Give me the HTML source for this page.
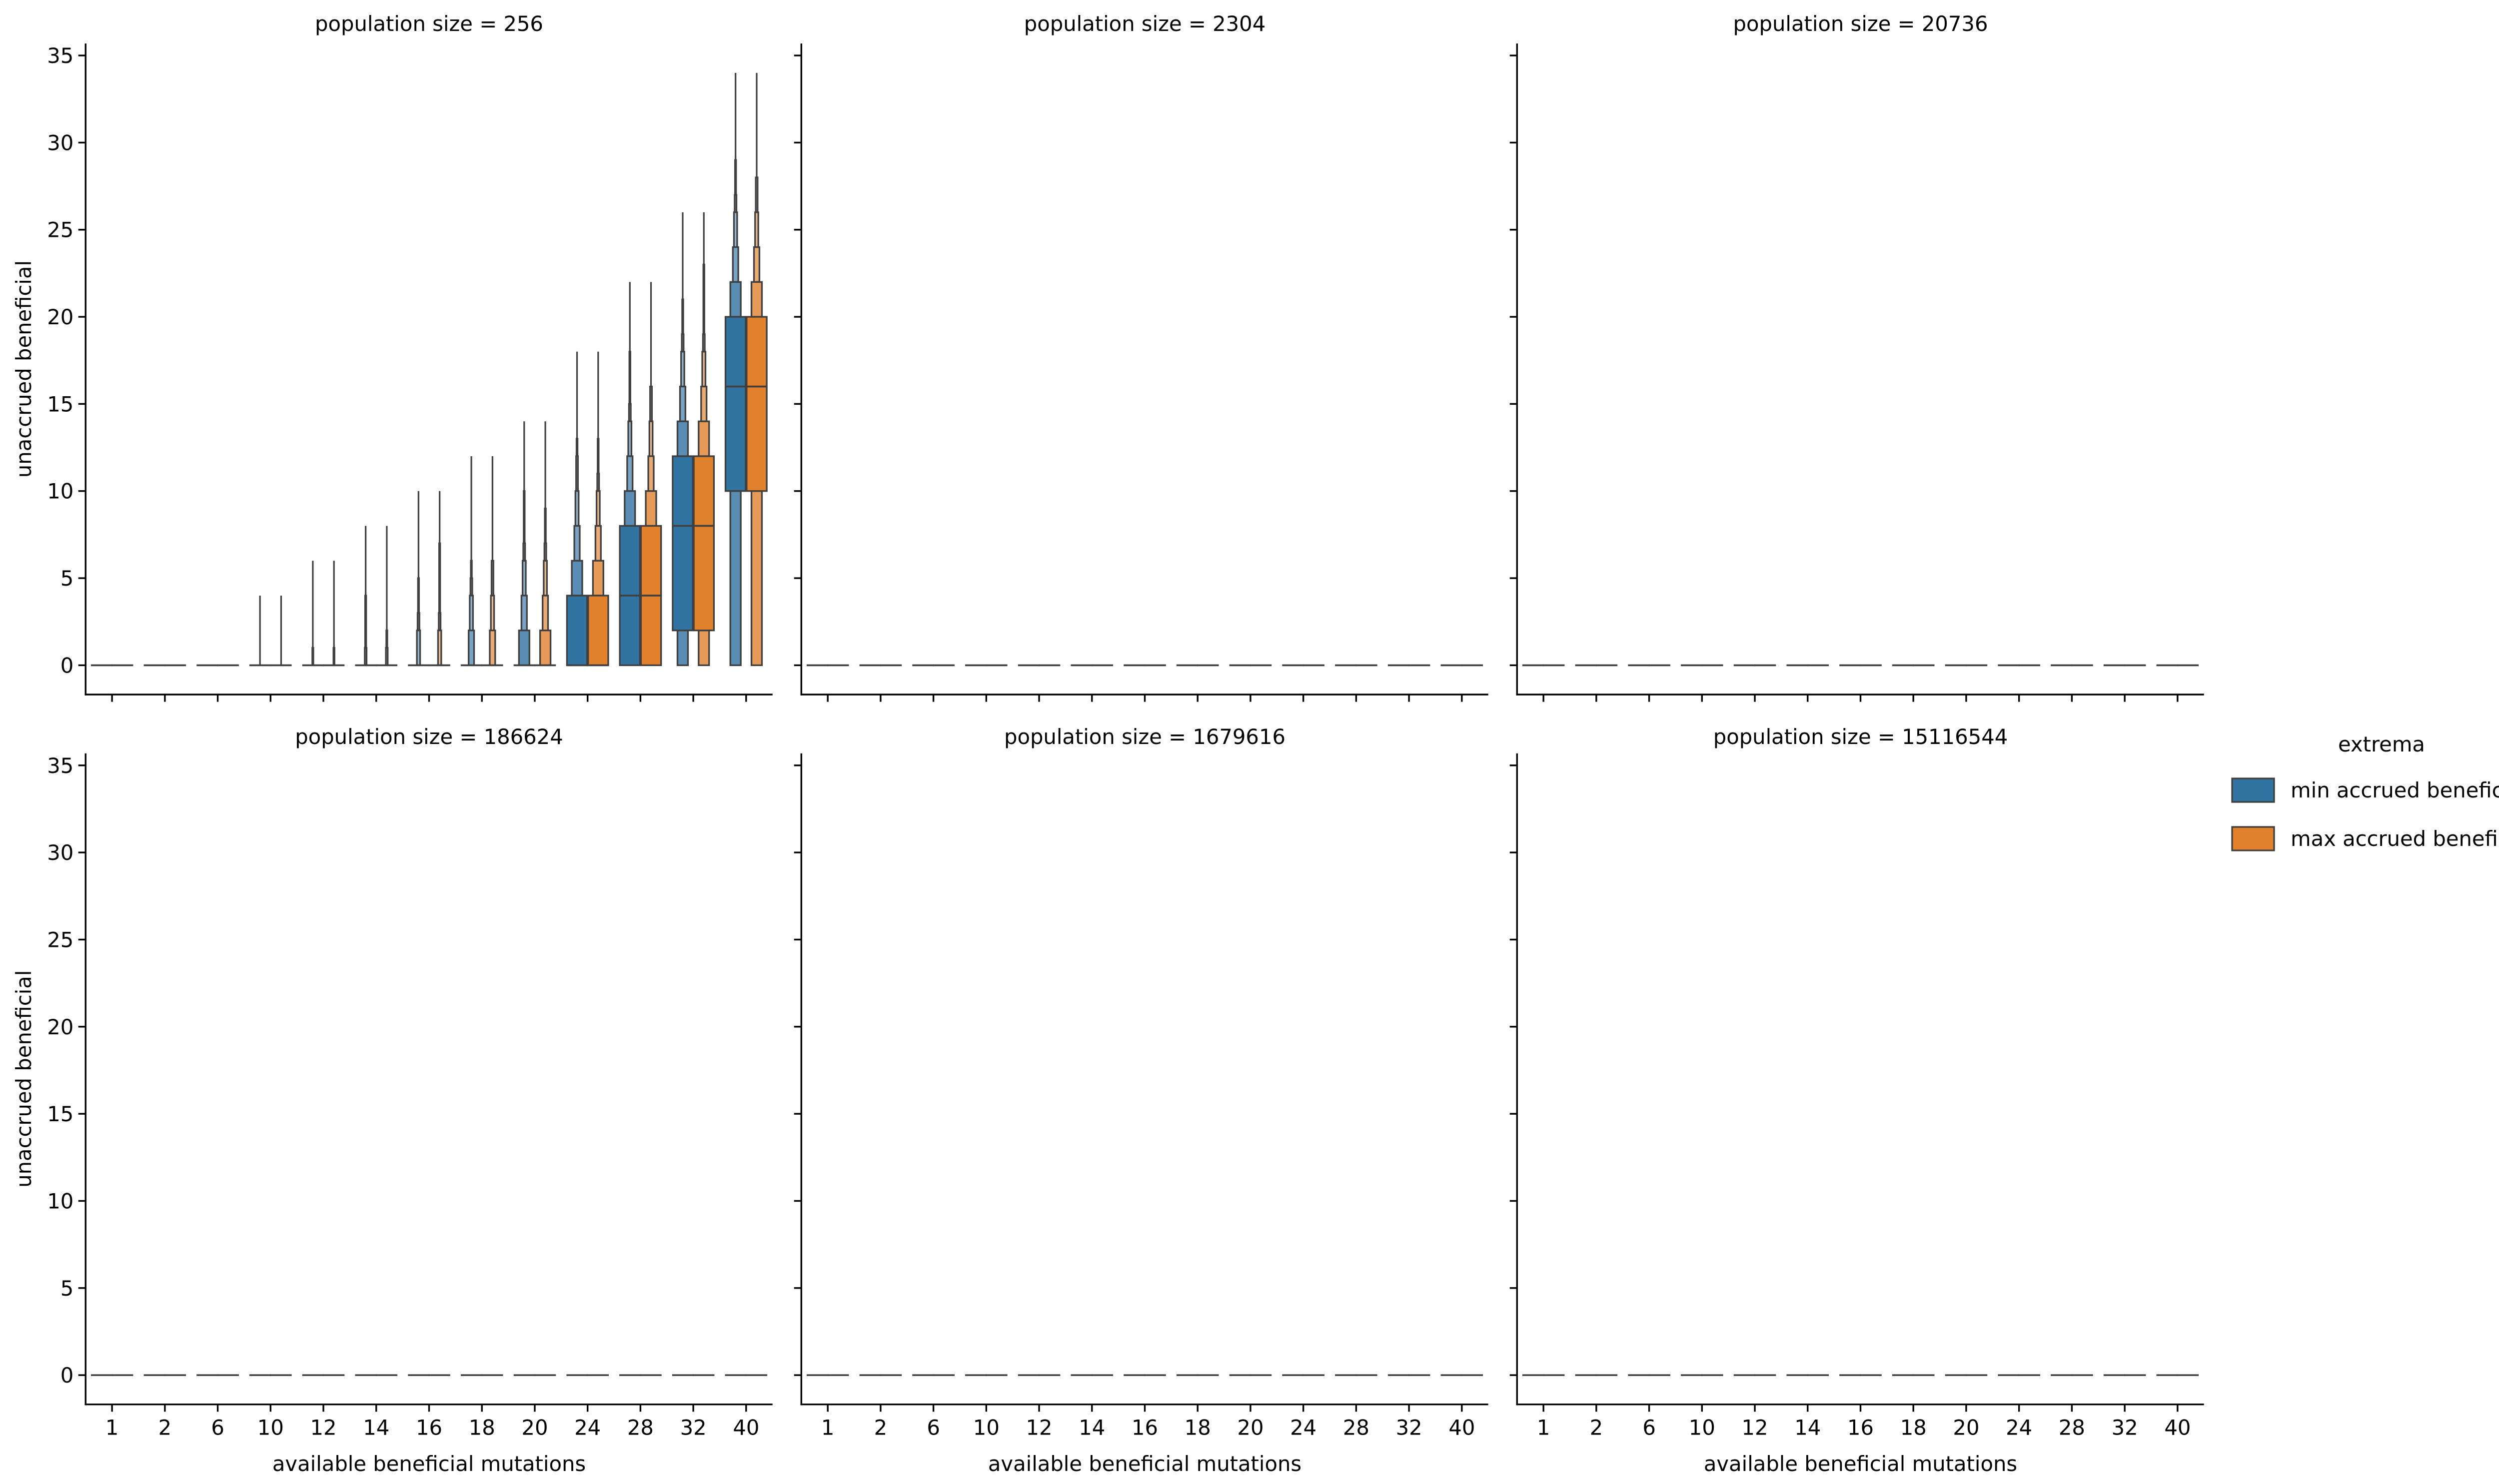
<!DOCTYPE html>
<html><head><meta charset="utf-8"><style>
html,body{margin:0;padding:0;background:#fff;}
svg{display:block;font-family:"DejaVu Sans","Liberation Sans",sans-serif;}
</style></head><body>
<svg id="chart" width="5105" height="2970" viewBox="0 0 5105 2970" xmlns="http://www.w3.org/2000/svg"></svg>
<script>
const categories = [1,2,6,10,12,14,16,18,20,24,28,32,40];
const populations = [256,2304,20736,186624,1679616,15116544];
const yTicks = [0,5,10,15,20,25,30,35];
const hueNames = ["min accrued beneficial","max accrued beneficial"];
// panel 1 (population 256) boxen levels: [low, high, level]
const minBoxes256 = [[],[],[],[],[[0,1,5]],[[0,1,4],[1,4,5]],[[0,2,3],[2,3,4],[3,5,5]],
 [[0,2,2],[2,4,3],[4,5,4],[5,6,5]],[[0,2,1],[2,4,2],[4,6,3],[6,7,4],[7,10,5]],
 [[0,4,0],[4,6,1],[6,8,2],[8,10,3],[10,12,4],[12,13,5]],
 [[0,8,0],[8,10,1],[10,12,2],[12,14,3],[14,15,4],[15,18,5]],
 [[2,12,0],[0,2,1],[12,14,1],[14,16,2],[16,18,3],[18,19,4],[19,21,5]],
 [[10,20,0],[0,10,1],[20,22,1],[22,24,2],[24,26,3],[26,27,4],[27,29,5]]];
const maxBoxes256 = [[],[],[],[],[[0,1,5]],[[0,1,4],[1,2,5]],[[0,2,3],[2,3,4],[3,7,5]],
 [[0,2,2],[2,4,3],[4,6,4]],[[0,2,1],[2,4,2],[4,6,3],[6,7,4],[7,9,5]],
 [[0,4,0],[4,6,1],[6,8,2],[8,10,3],[10,11,4],[11,13,5]],
 [[0,8,0],[8,10,1],[10,12,2],[12,14,3],[14,16,4]],
 [[2,12,0],[0,2,1],[12,14,1],[14,16,2],[16,18,3],[18,19,4],[19,23,5]],
 [[10,20,0],[0,10,1],[20,22,1],[22,24,2],[24,26,3],[26,28,4]]];
const minMedian256 = [0,0,0,0,0,0,0,0,0,0,4,8,16];
const maxMedian256 = [0,0,0,0,0,0,0,0,0,0,4,8,16];
const minTop256 = [0,0,0,4,6,8,10,12,14,18,22,26,34];
const maxTop256 = [0,0,0,4,6,8,10,12,14,18,22,26,34];
// other populations: all values zero
const zeroMedians = [0,0,0,0,0,0,0,0,0,0,0,0,0];

const NS="http://www.w3.org/2000/svg";
const svg=document.getElementById('chart');
const colLeft=[171.3,1603.3,3035.3], pW=1374.4;
const rowTop=[87,1507.7], pH=1303;
const yMin=-1.68, yMax=35.69;
const levelFrac=[1,0.52,0.27,0.16,0.09,0.05];
const fills=[["#3274a1","#5a8db3","#78a3c4","#96b9d4","#aac8de","#bcd4e6"],
             ["#e1812c","#e59a57","#e9ab74","#eebd92","#f1cba8","#f4d8bd"]];
const edge="#3f3f3f";
function mk(tag,attrs,parent){const e=document.createElementNS(NS,tag);for(const k in attrs)e.setAttribute(k,attrs[k]);(parent||svg).appendChild(e);return e;}

populations.forEach((pop,pi)=>{
  const r=Math.floor(pi/3), c=pi%3;
  const L=colLeft[c], T=rowTop[r], B=T+pH;
  const xs=i=>L+(i+0.5)*pW/categories.length;
  const ys=v=>B-(v-yMin)/(yMax-yMin)*pH;
  const step=pW/categories.length, hw=0.4*step;
  const g=mk('g',{});
  
  
  const t=mk('text',{x:L+pW/2,y:r===0?62:1489,'text-anchor':'middle','font-size':41.7,fill:'#000'},g);
  t.textContent='population size = '+pop;
  
  
  // marks
  const boxesH = pi===0?[minBoxes256,maxBoxes256]:null;
  const medH = pi===0?[minMedian256,maxMedian256]:[zeroMedians,zeroMedians];
  const topH = pi===0?[minTop256,maxTop256]:[zeroMedians,zeroMedians];
  categories.forEach((cat,ci)=>{
    for(let h=0;h<2;h++){
      const cx=xs(ci)+(h===0?-hw/2:hw/2);
      const boxes=boxesH?boxesH[h][ci]:[];
      let top=0;
      boxes.forEach(b=>{top=Math.max(top,b[1]);});
      // whisker line
      if(topH[h][ci]>0){
        const w=mk('line',{x1:cx,x2:cx,y1:ys(0),y2:ys(topH[h][ci]),stroke:edge,'stroke-width':3.2},g);
        
        
      }
      boxes.slice().sort((a,b)=>b[2]-a[2]).forEach(b=>{
        const bw=(hw-2)*levelFrac[b[2]];
        const rc=mk('rect',{x:cx-bw/2,y:ys(b[1]),width:bw,height:ys(b[0])-ys(b[1]),fill:fills[h][b[2]],stroke:edge,'stroke-width':3.3},g);
        
        
      });
      const m=mk('line',{x1:cx-hw/2+(h===0?0:-1),x2:cx+hw/2+(h===0?1:0),y1:ys(medH[h][ci]),y2:ys(medH[h][ci]),stroke:edge,'stroke-width':3.6},g);
      
      
    }
  });
  // spines
  const ya=mk('line',{x1:L,x2:L,y1:T,y2:B+1.7,stroke:'#000','stroke-width':3.4},g);
  
  
  const xa=mk('line',{x1:L-1.7,x2:L+pW,y1:B,y2:B,stroke:'#000','stroke-width':3.4},g);
  
  
  yTicks.forEach(v=>{
    mk('line',{x1:L-14.6,x2:L,y1:ys(v),y2:ys(v),stroke:'#000','stroke-width':3.4},g);
    if(c===0){
      const tl=mk('text',{x:L-24,y:ys(v)+15,'text-anchor':'end','font-size':41.7,fill:'#000'},g);
      tl.textContent=v;
      
      
    }
  });
  categories.forEach((cat,ci)=>{
    mk('line',{x1:xs(ci),x2:xs(ci),y1:B,y2:B+14.6,stroke:'#000','stroke-width':3.4},g);
    if(r===1){
      const tl=mk('text',{x:xs(ci),y:B+61,'text-anchor':'middle','font-size':41.7,fill:'#000'},g);
      tl.textContent=cat;
      
      
    }
  });
  if(r===1){
    const xl=mk('text',{x:L+pW/2,y:2944,'text-anchor':'middle','font-size':41.7,fill:'#000'},g);
    xl.textContent='available beneficial mutations';
    
    
  }
  if(c===0){
    const cy=(T+B)/2;
    const yl=mk('text',{x:0,y:0,'text-anchor':'middle','font-size':41.7,fill:'#000',transform:'translate(62,'+cy+') rotate(-90)'},g);
    yl.textContent='unaccrued beneficial';
    
    
  }
});
// legend
const lg=mk('g',{});


const lt=mk('text',{x:4765,y:1504,'text-anchor':'middle','font-size':41.7,fill:'#000'},lg);
lt.textContent='extrema';


hueNames.forEach((n,i)=>{
  const y0=i===0?1558:1655;
  const p=mk('rect',{x:4466,y:y0,width:84,height:47,fill:fills[i][0],stroke:edge,'stroke-width':3.3},lg);
  
  
  const tx=mk('text',{x:4583,y:y0+38,'font-size':41.7,fill:'#000'},lg);
  tx.textContent=n;
  
  
});
</script>
</body></html>
